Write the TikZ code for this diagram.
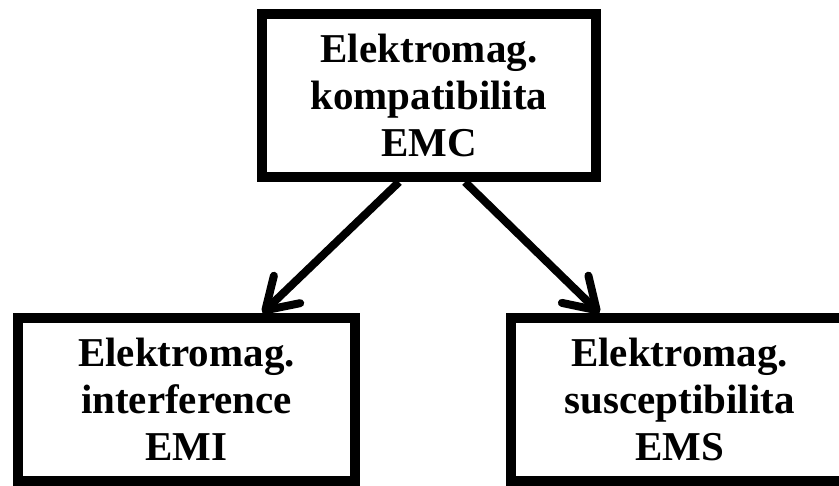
\documentclass[tikz,border=0pt]{standalone}
\usepackage{fontspec}
\setmainfont{Liberation Serif}
\usepackage{tikz}
\usetikzlibrary{arrows.meta}

\tikzset{
  blok/.style={draw, line width=5pt, rectangle, align=center,
    minimum width=168.5pt, minimum height=81.5pt,
    font=\bfseries\fontsize{20.5}{23.5}\selectfont},
  spoj/.style={line width=4pt, -{Straight Barb[length=15pt, width=19pt, round]}}
}

\begin{document}
\begin{tikzpicture}[x=0.5pt, y=-0.5pt]
    \useasboundingbox (0,0) rectangle (839,486);
    \clip (0,0) rectangle (839,486);

    \node[blok, minimum width=167pt] at (429,95.5) (emc) {Elektromag.\\kompatibilita\\EMC};
    \node[blok] at (186.5,399.5) (emi) {Elektromag.\\interference\\EMI};
    \node[blok] at (679.5,399.5) (ems) {Elektromag.\\susceptibilita\\EMS};

    \draw[spoj] ([xshift=-15pt]emc.south) -- ([xshift=38pt]emi.north);
    \draw[spoj] ([xshift=18pt]emc.south) -- ([xshift=-40pt]ems.north);
\end{tikzpicture}
\end{document}
